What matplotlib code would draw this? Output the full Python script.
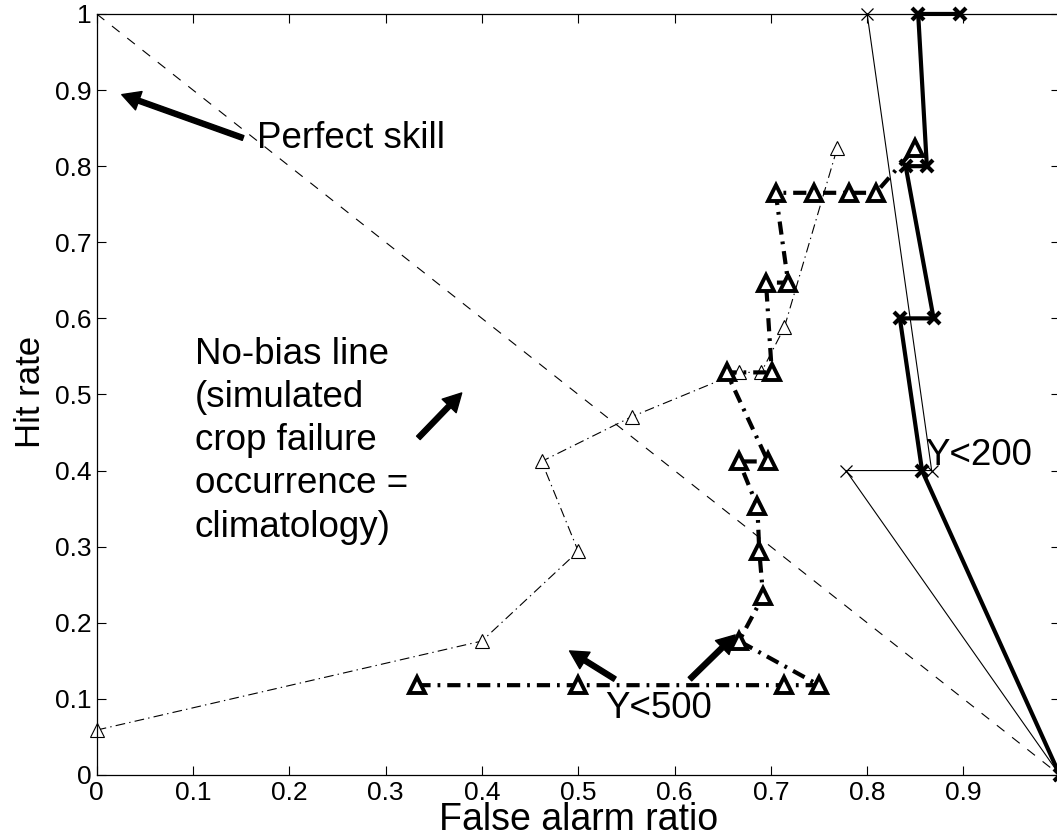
import matplotlib
matplotlib.use("Agg")
import matplotlib.pyplot as plt

plt.rcParams['font.family'] = ['Liberation Sans', 'DejaVu Sans']
plt.rcParams['lines.scale_dashes'] = False

# No-bias line
nobias_x = [0.0, 1.0]
nobias_y = [1.0, 0.0]

# Y<200, model A (thin, x markers)
y200a_x = [0.800, 0.867, 0.778, 1.0]
y200a_y = [1.0, 0.4, 0.4, 0.0]

# Y<200, model B (thick, x markers)
y200b_x = [0.896, 0.853, 0.862, 0.840, 0.869, 0.834, 0.857, 1.0]
y200b_y = [1.0, 1.0, 0.8, 0.8, 0.6, 0.6, 0.4, 0.0]

# Y<500, model A (thin dash-dot, small triangles)
y500a_x = [0.0, 0.400, 0.500, 0.462, 0.556, 0.667, 0.690, 0.714, 0.769]
y500a_y = [0.059, 0.176, 0.294, 0.412, 0.471, 0.529, 0.529, 0.588, 0.824]

# Y<500, model B (thick dash-dot, big triangles)
y500b_x = [0.333, 0.500, 0.714, 0.750, 0.667, 0.692, 0.688, 0.686, 0.667, 0.697,
           0.654, 0.701, 0.695, 0.718, 0.705, 0.745, 0.781, 0.809, 0.850]
y500b_y = [0.118, 0.118, 0.118, 0.118, 0.176, 0.235, 0.294, 0.353, 0.412, 0.412,
           0.529, 0.529, 0.647, 0.647, 0.765, 0.765, 0.765, 0.765, 0.824]

xticks = [0, 0.1, 0.2, 0.3, 0.4, 0.5, 0.6, 0.7, 0.8, 0.9, 1]
yticks = [0, 0.1, 0.2, 0.3, 0.4, 0.5, 0.6, 0.7, 0.8, 0.9, 1]
xtick_labels = ['0', '0.1', '0.2', '0.3', '0.4', '0.5', '0.6', '0.7', '0.8', '0.9', '']
ytick_labels = ['0', '0.1', '0.2', '0.3', '0.4', '0.5', '0.6', '0.7', '0.8', '0.9', '1']

fig = plt.figure(figsize=(10.57, 8.36), dpi=100)
ax = fig.add_axes([0.0915, 0.0730, 0.9111, 0.9103])

ax.plot(nobias_x, nobias_y, color='k', lw=0.8, linestyle=(0, (7, 7)))
ax.plot(y200a_x, y200a_y, color='k', lw=0.8, marker='x', ms=8, mew=0.9, clip_on=False)
ax.plot(y200b_x, y200b_y, color='k', lw=3.0, marker='x', ms=8, mew=3.0, clip_on=False)
ax.plot(y500a_x, y500a_y, color='k', lw=0.8, linestyle=(0, (7, 3, 1, 3)),
        marker='^', ms=10, mew=0.8, mfc='white', clip_on=False)
ax.plot(y500b_x, y500b_y, color='k', lw=3.0, linestyle=(0, (9.5, 5, 2, 5)),
        marker='^', ms=11, mew=2.8, mfc='white', clip_on=False)

ax.set_xlim(0, 1)
ax.set_ylim(0, 1)
ax.set_xticks(xticks)
ax.set_xticklabels(xtick_labels)
ax.set_yticks(yticks)
ax.set_yticklabels(ytick_labels)
ax.tick_params(direction='in', length=6.5, width=0.8, top=True, right=True,
               labelsize=19, pad=4)
for sp in ax.spines.values():
    sp.set_linewidth(0.9)

ax.text(0.5, -0.036, 'False alarm ratio', transform=ax.transAxes,
        ha='center', va='top', fontsize=27)
fig.text(30 / 1057, 1 - 392 / 836, 'Hit rate', rotation=90, ha='center',
         va='center', fontsize=25)

arrow_kw = dict(facecolor='black', edgecolor='black', width=3.6, headwidth=14,
                headlength=13, shrink=0)

ax.annotate('', xy=(0.026, 0.894), xytext=(0.152, 0.837), arrowprops=arrow_kw)
ax.text(0.166, 0.837, 'Perfect skill', fontsize=26.5, ha='left', va='center')

ax.annotate('', xy=(0.379, 0.502), xytext=(0.334, 0.443), arrowprops=arrow_kw)
ax.text(0.102, 0.439,
        'No-bias line\n(simulated\ncrop failure\noccurrence =\nclimatology)',
        fontsize=26.5, ha='left', va='center', linespacing=1.3)

ax.text(0.860, 0.42, 'Y<200', fontsize=26.5, ha='left', va='center')

ax.text(0.528, 0.088, 'Y<500', fontsize=26.5, ha='left', va='center')
ax.annotate('', xy=(0.491, 0.163), xytext=(0.538, 0.126), arrowprops=arrow_kw)
ax.annotate('', xy=(0.663, 0.184), xytext=(0.616, 0.126), arrowprops=arrow_kw)

fig.savefig('out.png', dpi=100)
